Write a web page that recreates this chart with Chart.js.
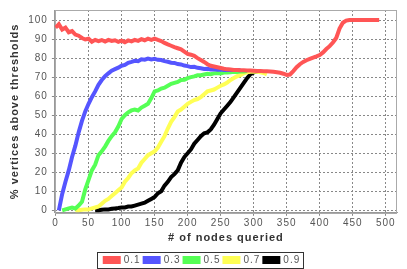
<!DOCTYPE html>
<html>
<head>
<meta charset="utf-8">
<script src="https://cdn.jsdelivr.net/npm/chart.js@4/dist/chart.umd.min.js"></script>
<style>
  html, body { margin: 0; padding: 0; background: #fff; }
  #wrap { width: 407px; height: 269px; }
</style>
</head>
<body>
<div id="wrap"><canvas id="chart" width="407" height="269"></canvas></div>
<script>
// # of nodes queried (x), step 5
const nodes = [
  0, 5, 10, 15, 20, 25, 30, 35, 40, 45,
  50, 55, 60, 65, 70, 75, 80, 85, 90, 95,
  100, 105, 110, 115, 120, 125, 130, 135, 140, 145,
  150, 155, 160, 165, 170, 175, 180, 185, 190, 195,
  200, 205, 210, 215, 220, 225, 230, 235, 240, 245,
  250, 255, 260, 265, 270, 275, 280, 285, 290, 295,
  300, 305, 310, 315, 320, 325, 330, 335, 340, 345,
  350, 355, 360, 365, 370, 375, 380, 385, 390, 395,
  400, 405, 410, 415, 420, 425, 430, 435, 440, 445,
  450, 455, 460, 465, 470, 475, 480, 485, 490
];

const xTicks = [0, 50, 100, 150, 200, 250, 300, 350, 400, 450, 500];
const yTicks = [0, 10, 20, 30, 40, 50, 60, 70, 80, 90, 100];

const thresholds = ['0.1', '0.3', '0.5', '0.7', '0.9'];
const colors = ['#ff5555', '#5555ff', '#55ff55', '#ffff55', '#000000'];

// % vertices above threshold
const t01 = [
  96, 97.8, 95, 96, 93.6, 94.2, 92.4, 91.8, 90.6, 89.8,
  90.2, 88.6, 89.6, 88.9, 89.5, 88.7, 89.6, 89, 89.4, 88.6,
  89.2, 88.4, 89.3, 88.8, 89.6, 89.1, 90, 89.4, 90.2, 89.6,
  90.3, 89.6, 89, 88, 87.2, 86.5, 85.8, 85.2, 84.6, 83.4,
  82.2, 81.8, 81.2, 80, 79, 78, 76.8, 76, 75.6, 75.2,
  74.8, 74.4, 74.1, 74, 73.8, 73.7, 73.6, 73.6, 73.5, 73.5,
  73.4, 73.3, 73.3, 73.1, 73.1, 73, 72.8, 72.6, 72.3, 71.8,
  71.2, 71.4, 73.2, 75.2, 76.8, 78, 78.9, 79.6, 80.3, 80.9,
  81.6, 83, 84.8, 86.3, 88.2, 90.6, 95.5, 98.6, 99.7, 100,
  100, 100, 100, 100, 100, 100, 100, 100, 100
];
const t03 = [
  null, 0, 8.5, 15, 21, 28, 34, 41, 47, 52,
  56, 59.5, 62.5, 66, 68.5, 70.5, 72, 73.4, 74.2, 75,
  76, 76.4, 77.5, 78, 78.6, 78.4, 79.4, 79.2, 79.8, 79.3,
  79.6, 79.1, 79, 78.4, 78.1, 77.6, 77.5, 76.9, 76.7, 76.1,
  75.8, 75.3, 75.4, 74.9, 74.7, 74.3, 74.4, 74, 74.2, 73.9,
  74, 73.8, 73.9, 73.8, 73.8, 73.7, 73.6, null, null, null
];
const t05 = [
  null, null, 0, 0.5, 1, 1.5, 1, 2.5, 4.5, 11,
  16, 21, 24, 29, 31, 33.5, 36.5, 39, 41, 44,
  48, 50, 51.5, 52.5, 53, 52.5, 54, 55, 56, 59,
  62.5, 63, 64, 64.5, 65.5, 66.5, 67, 67.5, 68.5, 68.6,
  69.5, 70, 70.4, 71, 71, 71.4, 71.8, 71.6, 72, 72.2,
  72, 72.4, 72.5, 72.6, 72.8, 72.7, 73, 73, 73.2, null
];
const t07 = [
  null, null, null, null, null, null, 0, 0, 0.3, 0.5,
  0.5, 1, 1.5, 2, 3.5, 5, 6, 7.5, 9, 10.5,
  12, 15, 17, 19.5, 21, 22, 25, 27, 29, 30,
  31, 33, 36, 39, 43, 46.5, 49, 52, 53, 54.5,
  56, 57, 58, 58.5, 59.5, 61, 62.5, 63, 63.5, 64.5,
  65.5, 66.2, 67.2, 68.5, 69.5, 70.5, 71, 72, 72.5, 72.8,
  73, 72.8, 72.6, 72.2, 71.5, null
];
const t09 = [
  null, null, null, null, null, null, null, null, null, null,
  null, null, 0, 0, 0.3, 0.5, 0.5, 0.8, 1, 1.2,
  1.5, 1.5, 2, 2, 2.5, 3, 3.5, 4, 5, 6,
  7, 9, 10, 13, 15, 17.5, 19, 21, 25, 28,
  30, 32, 35, 37, 39, 40.5, 41, 42.5, 45, 48,
  51, 53, 55, 57, 59.5, 62, 64.5, 67, 69.5, 71.5,
  72.5, 73, 73.2, null
];

const series = [t01, t03, t05, t07, t09];

function pts(arr) {
  const out = [];
  for (let i = 0; i < arr.length; i++) {
    if (arr[i] !== null) out.push({ x: nodes[i], y: arr[i] });
  }
  return out;
}

const spacing = {
  id: 'spacing',
  beforeUpdate(chart) { chart.ctx.letterSpacing = '1px'; },
  beforeDraw(chart) { chart.ctx.letterSpacing = '1px'; }
};

const frames = {
  id: 'frames',
  beforeDatasetsDraw(chart) {
    const a = chart.chartArea, ctx = chart.ctx;
    ctx.save();
    ctx.strokeStyle = '#aaaaaa';
    ctx.lineWidth = 1;
    ctx.strokeRect(Math.round(a.left) + 0.5, Math.round(a.top) + 0.5,
      Math.round(a.right - a.left) - 1, Math.round(a.bottom - a.top));
    ctx.restore();
  },
  afterDraw(chart) {
    const boxes = chart.legend.legendHitBoxes;
    if (!boxes || !boxes.length) return;
    const first = boxes[0], last = boxes[boxes.length - 1];
    const ctx = chart.ctx;
    ctx.save();
    ctx.strokeStyle = '#333333';
    ctx.lineWidth = 1;
    const x1 = Math.round(first.left - 8) + 0.5;
    const x2 = Math.round(last.left + last.width + 3) + 0.5;
    const y1 = Math.round(first.top - 3) + 0.5;
    const y2 = Math.round(first.top + first.height + 3) + 0.5;
    ctx.strokeRect(x1, y1, x2 - x1, y2 - y1);
    ctx.restore();
  }
};

const ctx = document.getElementById('chart');
new Chart(ctx, {
  type: 'line',
  data: {
    datasets: series.map((s, i) => ({
      label: thresholds[i],
      data: pts(s),
      borderColor: colors[i],
      backgroundColor: colors[i],
      borderWidth: 4,
      pointRadius: 0,
      tension: 0,
      fill: false
    }))
  },
  options: {
    responsive: false,
    animation: false,
    events: [],
    layout: { padding: { top: 1, right: 10, left: 8, bottom: -6 } },
    plugins: {
      legend: {
        position: 'bottom',
        labels: {
          boxWidth: 14,
          boxHeight: 4,
          padding: 4,
          color: '#555555',
          font: { family: 'Liberation Sans', size: 10 }
        }
      },
      tooltip: { enabled: false }
    },
    scales: {
      x: {
        type: 'linear',
        min: -1,
        max: 517,
        bounds: 'data',
        afterBuildTicks: (scale) => { scale.ticks = xTicks.map(v => ({ value: v })); },
        ticks: {
          maxRotation: 0,
          autoSkip: false,
          color: '#555555',
          padding: 1,
          font: { family: 'Liberation Sans', size: 10 }
        },
        grid: { color: '#888888', lineWidth: 1, tickLength: 3, tickColor: '#888888' },
        border: { color: '#999999', width: 1, dash: [2, 2] },
        title: {
          display: true,
          text: '# of nodes queried',
          color: '#333333',
          padding: { top: 2, bottom: 6 },
          font: { family: 'Liberation Sans', size: 11, weight: 'bold' }
        }
      },
      y: {
        min: -1.3,
        max: 105.3,
        bounds: 'data',
        afterBuildTicks: (scale) => { scale.ticks = yTicks.map(v => ({ value: v })); },
        ticks: {
          autoSkip: false,
          color: '#555555',
          padding: 4,
          font: { family: 'Liberation Sans', size: 10 }
        },
        grid: { color: '#888888', lineWidth: 1, tickLength: 3, tickColor: '#888888' },
        border: { color: '#999999', width: 1, dash: [2, 2] },
        title: {
          display: true,
          text: '% vertices above thresholds',
          color: '#333333',
          padding: { top: 0, bottom: 3 },
          font: { family: 'Liberation Sans', size: 11, weight: 'bold' }
        }
      }
    }
  },
  plugins: [spacing, frames]
});
</script>
</body>
</html>
